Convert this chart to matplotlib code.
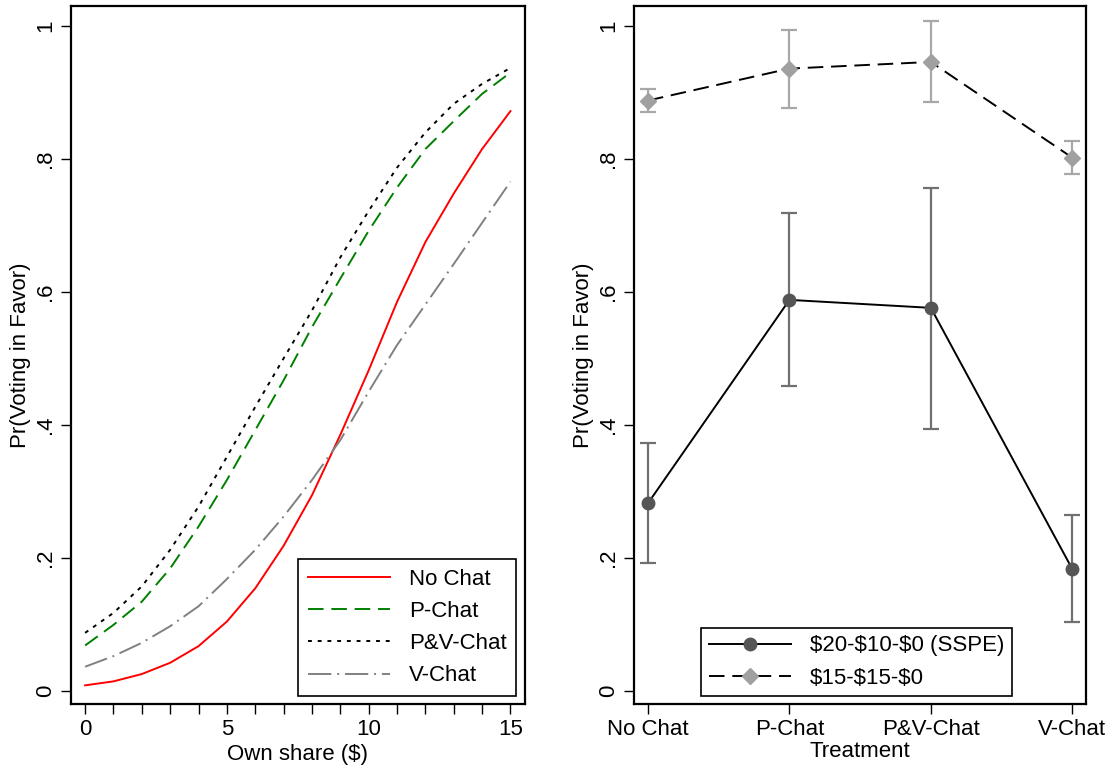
import matplotlib.pyplot as plt
import numpy as np

plt.rcParams['font.family'] = ['Liberation Sans', 'DejaVu Sans']

# -----------------------------------------------------------
# data
# -----------------------------------------------------------

share = np.arange(0, 16)

no_chat = [0.008, 0.014, 0.025, 0.042, 0.067, 0.104, 0.154, 0.218,
           0.294, 0.385, 0.482, 0.585, 0.675, 0.748, 0.815, 0.872]
p_chat = [0.068, 0.099, 0.134, 0.184, 0.247, 0.317, 0.392, 0.467,
          0.547, 0.620, 0.692, 0.757, 0.815, 0.857, 0.898, 0.930]
pv_chat = [0.087, 0.117, 0.157, 0.212, 0.277, 0.352, 0.427, 0.500,
           0.572, 0.652, 0.722, 0.787, 0.840, 0.883, 0.913, 0.937]
v_chat = [0.036, 0.052, 0.072, 0.097, 0.127, 0.168, 0.212, 0.262,
          0.317, 0.377, 0.450, 0.520, 0.581, 0.642, 0.704, 0.766]

treatments = ['No Chat', 'P-Chat', 'P&V-Chat', 'V-Chat']

sspe_mean = [0.282, 0.588, 0.576, 0.183]
sspe_hi = [0.372, 0.718, 0.757, 0.264]
sspe_lo = [0.192, 0.458, 0.394, 0.103]

eq_mean = [0.888, 0.936, 0.946, 0.802]
eq_hi = [0.906, 0.994, 1.008, 0.827]
eq_lo = [0.871, 0.877, 0.886, 0.777]

yticks = [0, 0.2, 0.4, 0.6, 0.8, 1.0]
ytick_labels = ['0', '.2', '.4', '.6', '.8', '1']

# -----------------------------------------------------------
# figure
# -----------------------------------------------------------

fig = plt.figure(figsize=(11.12, 7.66), dpi=100)
ax1 = fig.add_axes([0.0638, 0.081, 0.408, 0.911])
ax2 = fig.add_axes([0.570, 0.081, 0.407, 0.911])

fs = 16


def style_axis(ax):
    for s in ax.spines.values():
        s.set_linewidth(1.6)
    ax.set_ylim(-0.02, 1.03)
    ax.set_yticks(yticks)
    ax.set_yticklabels(ytick_labels, rotation=90, va='center')
    ax.tick_params(direction='out', length=7, width=1.0, labelsize=fs)
    ax.set_ylabel('Pr(Voting in Favor)', fontsize=fs, labelpad=3)


# left panel: predicted probabilities
ax1.plot(share, no_chat, color='red', lw=1.4, label='No Chat')
ax1.plot(share, p_chat, color='#008000', lw=1.4, dashes=(8, 4), label='P-Chat')
ax1.plot(share, pv_chat, color='black', lw=1.4, dashes=(2, 3), label='P&V-Chat')
ax1.plot(share, v_chat, color='#808080', lw=1.4, dashes=(12, 3, 1, 3), label='V-Chat')

style_axis(ax1)
ax1.set_xlim(-0.5, 15.5)
ax1.set_xticks([0, 5, 10, 15])
ax1.set_xticks(share, minor=True)
ax1.tick_params(axis='x', which='minor', direction='out', length=7, width=1.0)
ax1.set_xlabel('Own share ($)', fontsize=fs, labelpad=3)

leg1 = ax1.legend(loc='lower right', fontsize=fs, handlelength=3.7,
                  handletextpad=0.85, borderpad=0.45, labelspacing=0.5,
                  borderaxespad=0, fancybox=False, edgecolor='black',
                  framealpha=1, bbox_to_anchor=(0.982, 0.011))
leg1.get_frame().set_linewidth(1.2)

# right panel: treatment means with confidence intervals
xpos = np.arange(1, len(treatments) + 1)

ax2.errorbar(xpos, sspe_mean,
             yerr=[np.subtract(sspe_mean, sspe_lo), np.subtract(sspe_hi, sspe_mean)],
             fmt='none', ecolor='#707070', elinewidth=1.6, capsize=6, capthick=1.6)
ax2.errorbar(xpos, eq_mean,
             yerr=[np.subtract(eq_mean, eq_lo), np.subtract(eq_hi, eq_mean)],
             fmt='none', ecolor='#a8a8a8', elinewidth=1.6, capsize=6, capthick=1.6)

ax2.plot(xpos, sspe_mean, color='black', lw=1.4, marker='o', ms=9,
         mfc='#555555', mec='#555555', label='$20-$10-$0 (SSPE)')
ax2.plot(xpos, eq_mean, color='black', lw=1.4, dashes=(8, 4), marker='D', ms=8,
         mfc='#a0a0a0', mec='#a0a0a0', label='$15-$15-$0')

style_axis(ax2)
ax2.set_xlim(0.9, 4.1)
ax2.set_xticks(xpos)
ax2.set_xticklabels(treatments)
ax2.set_xlabel('Treatment', fontsize=fs, labelpad=1)

leg2 = ax2.legend(loc='lower left', fontsize=fs, handlelength=3.7,
                  handletextpad=0.85, borderpad=0.35, labelspacing=0.5,
                  borderaxespad=0, fancybox=False, edgecolor='black',
                  framealpha=1, numpoints=1, bbox_to_anchor=(0.148, 0.011))
leg2.get_frame().set_linewidth(1.2)

for lab in ax1.get_xticklabels() + ax2.get_xticklabels():
    lab.set_fontsize(fs)

fig.savefig('out.png', dpi=100)
